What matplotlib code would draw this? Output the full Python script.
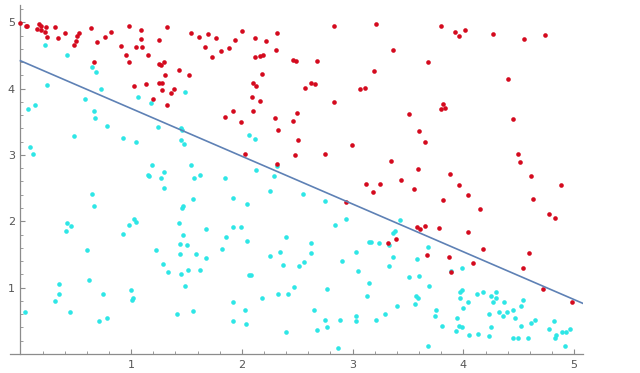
import numpy as np
import matplotlib
matplotlib.use("Agg")
import matplotlib.pyplot as plt
from matplotlib.ticker import MultipleLocator

# class 1 (red) points
red_x = [0.00, 0.05, 0.06, 0.17, 0.19, 0.15, 0.19, 0.23, 0.22, 0.24, 0.31, 0.34, 0.40, 0.53, 0.51,
         0.50, 0.48, 0.64, 0.69, 0.76, 0.82, 0.66, 0.91, 0.95, 0.98, 0.98, 1.04, 1.09, 1.09, 1.10,
         1.15, 1.03, 1.13, 1.25, 1.32, 1.25, 1.27, 1.30, 1.31, 1.25, 1.28, 1.28, 1.20, 1.39, 1.36,
         1.32, 1.43, 1.52, 1.54, 1.61, 1.69, 1.67,
         1.73, 1.77, 1.81, 1.88, 1.94, 2.00, 2.12, 2.12, 2.16, 2.19, 2.22, 2.32, 2.31, 2.18, 2.10,
         2.13, 2.09, 2.16, 1.92, 1.85, 1.99, 2.10, 2.30, 2.33, 2.46, 2.50, 2.51, 2.48, 2.32, 2.03,
         2.46, 2.49, 2.68, 2.57, 2.62, 2.66, 2.83, 2.83, 2.75, 2.99, 3.07, 3.11, 3.19, 3.21, 3.36,
         3.35, 3.12, 3.25,
         3.18, 2.94, 3.32, 3.39,
         3.80, 3.92, 3.96, 4.01, 4.27, 4.55, 4.74, 3.68, 4.40, 3.82, 3.80, 3.83, 3.51, 3.60, 3.65,
         4.45, 4.49, 4.51, 3.59, 3.44, 3.88, 3.96, 4.61, 4.88,
         3.55, 3.82, 4.04, 4.15, 4.63, 4.77, 4.83, 3.58, 3.61, 3.65, 3.78, 4.04, 3.67, 3.87, 4.18,
         4.09, 3.89, 4.59, 4.54, 4.72, 4.98]
red_y = [4.99, 4.95, 4.94, 4.97, 4.95, 4.90, 4.88, 4.93, 4.86, 4.78, 4.93, 4.76, 4.84, 4.84, 4.79,
         4.72, 4.66, 4.91, 4.70, 4.78, 4.85, 4.40, 4.64, 4.50, 4.95, 4.40, 4.62, 4.88, 4.75, 4.62,
         4.50, 4.04, 4.07, 4.74, 4.93, 4.37, 4.35, 4.40, 4.20, 4.08, 4.08, 3.98, 3.85, 3.99, 3.93,
         3.75, 4.28, 4.20, 4.84, 4.78, 4.82, 4.62,
         4.47, 4.76, 4.57, 4.61, 4.73, 4.87, 4.76, 4.47, 4.49, 4.50, 4.72, 4.84, 4.58, 4.22, 4.09,
         4.04, 3.87, 3.81, 3.66, 3.57, 3.49, 3.66, 3.55, 3.37, 3.51, 3.63, 3.22, 3.00, 2.86, 3.01,
         4.43, 4.41, 4.41, 4.01, 4.08, 4.07, 3.80, 4.94, 3.01, 3.15, 3.99, 4.01, 4.26, 4.97, 4.58,
         2.91, 2.56, 2.56,
         2.44, 2.29, 1.68, 1.73,
         4.94, 4.85, 4.79, 4.88, 4.82, 4.75, 4.81, 4.40, 4.14, 3.77, 3.69, 3.71, 3.61, 3.36, 3.19,
         3.54, 3.01, 2.89, 2.79, 2.62, 2.72, 2.54, 2.68, 2.54,
         2.48, 2.32, 2.39, 2.18, 2.33, 2.11, 2.05, 1.91, 1.88, 1.93, 1.90, 1.84, 1.49, 1.46, 1.58,
         1.37, 1.23, 1.52, 1.29, 0.98, 0.78]

# class 2 (cyan) points
cyan_x = [0.22, 0.42, 0.24, 0.07, 0.13, 0.09, 0.11, 0.48, 0.65, 0.68, 0.73, 0.58, 0.66, 0.67, 0.78,
          0.93, 1.04, 1.06, 1.18, 1.24, 1.45, 1.46, 1.45, 1.48, 1.49, 1.19, 1.15, 1.16, 1.30, 1.27,
          1.30, 1.54, 1.57, 1.62,
          0.65, 0.66, 0.42, 0.46, 0.41, 0.60, 0.62, 0.35, 0.35, 0.31, 0.45, 0.04, 0.75, 0.71, 0.78,
          0.93, 0.98, 1.03, 1.04, 1.00, 1.02, 1.01, 1.22, 1.29, 1.33, 1.56, 1.47, 1.46, 1.43, 1.47,
          1.44, 1.50, 1.44, 1.59, 1.68, 1.68, 1.45, 1.51, 1.62, 1.49, 1.41, 1.56,
          2.06, 2.12, 2.32, 2.13, 2.29, 1.85,
          1.92, 2.05, 2.25, 2.55, 2.75, 2.94, 2.84, 1.92, 1.99, 1.86, 2.05, 2.40, 1.82, 2.25, 2.34,
          2.37, 2.62, 2.62, 2.56, 2.52, 2.06, 2.08, 2.90, 3.03, 3.05, 3.15, 3.17, 3.24, 3.33, 3.36,
          3.38, 3.36, 3.33, 3.15, 3.13, 3.29, 3.21, 3.03, 3.03, 2.89, 2.75, 2.77, 2.68, 2.65, 2.77,
          2.47, 2.42, 2.33, 2.18, 1.92, 2.03, 1.92, 2.04, 2.40, 2.87,
          3.43, 3.40, 3.68, 3.58, 3.60, 3.51, 3.69, 3.57, 3.59, 3.56, 3.75, 3.74, 3.81, 3.68, 3.99,
          3.89, 3.97, 3.99, 3.97, 4.04, 4.00, 3.94, 3.93, 3.96, 3.99, 4.05, 4.12, 4.18, 4.13, 4.23,
          4.25, 4.23, 4.25, 4.27, 4.29, 4.29, 4.32, 4.36, 4.37, 4.39, 4.45, 4.47, 4.52, 4.54, 4.52,
          4.61, 4.65, 4.45, 4.49, 4.58, 4.77, 4.82, 4.84, 4.83, 4.89, 4.93, 4.96, 4.92]
cyan_y = [4.66, 4.50, 4.05, 3.69, 3.76, 3.12, 3.02, 3.28, 4.32, 4.25, 3.99, 3.85, 3.66, 3.55, 3.44,
          3.25, 3.19, 3.87, 3.79, 3.42, 3.41, 3.37, 3.23, 3.16, 3.95, 2.85, 2.70, 2.69, 2.74, 2.65,
          2.50, 2.85, 2.65, 2.70,
          2.41, 2.23, 1.98, 1.93, 1.86, 1.56, 1.12, 1.06, 0.90, 0.80, 0.63, 0.64, 0.90, 0.49, 0.55,
          1.81, 1.95, 2.03, 1.99, 0.97, 0.85, 0.81, 1.57, 1.36, 1.23, 2.33, 2.23, 2.20, 1.98, 1.80,
          1.66, 1.65, 1.51, 1.50, 1.45, 1.88, 1.21, 1.27, 1.27, 1.02, 0.61, 0.65,
          3.30, 3.24, 2.84, 2.78, 2.69, 2.66,
          2.35, 2.26, 2.45, 2.41, 2.30, 2.03, 1.94, 1.92, 1.92, 1.77, 1.71, 1.76, 1.59, 1.47, 1.53,
          1.34, 1.67, 1.52, 1.38, 1.32, 1.19, 1.19, 1.40, 1.53, 1.25, 1.69, 1.69, 1.68, 1.65, 1.82,
          1.85, 1.46, 1.32, 1.07, 0.87, 0.61, 0.51, 0.57, 0.49, 0.51, 0.51, 0.40, 0.36, 0.66, 0.98,
          1.01, 0.90, 0.90, 0.85, 0.78, 0.67, 0.49, 0.45, 0.33, 0.09,
          2.02, 0.73, 1.61, 1.43, 1.17, 1.16, 1.02, 0.88, 0.84, 0.75, 0.67, 0.57, 0.42, 0.12, 1.29,
          1.25, 0.93, 0.96, 0.85, 0.78, 0.69, 0.54, 0.35, 0.42, 0.40, 0.28, 0.90, 0.93, 0.30, 0.61,
          0.40, 0.27, 0.87, 0.79, 0.93, 0.84, 0.63, 0.58, 0.78, 0.64, 0.67, 0.55, 0.73, 0.81, 0.42,
          0.46, 0.51, 0.24, 0.24, 0.24, 0.37, 0.49, 0.28, 0.24, 0.33, 0.33, 0.37, 0.12]

# separating line y = intercept + slope * x
intercept = 4.42
slope = -0.72
line_x = np.array([0.0, 5.08])

fig = plt.figure(figsize=(6.4, 3.73), dpi=100)
ax = fig.add_axes([10 / 640, 19 / 373, 573 / 640, 349 / 373])

ax.scatter(cyan_x, cyan_y, s=11, color="#2ee6e6", linewidths=0, zorder=2)
ax.scatter(red_x, red_y, s=11, color="#d40a1e", linewidths=0, zorder=3)
ax.plot(line_x, intercept + slope * line_x, color="#5e81b5", lw=1.2, zorder=4)

ax.set_xlim(-0.094, 5.08)
ax.set_ylim(0, 5.26)

for s in ["top", "right"]:
    ax.spines[s].set_visible(False)
ax.spines["left"].set_position(("data", 0))
for s in ["left", "bottom"]:
    ax.spines[s].set_color("#8c8c8c")
    ax.spines[s].set_linewidth(0.9)

ax.set_xticks([1, 2, 3, 4, 5])
ax.set_yticks([1, 2, 3, 4, 5])
ax.xaxis.set_minor_locator(MultipleLocator(0.2))
ax.yaxis.set_minor_locator(MultipleLocator(0.2))
ax.tick_params(which="both", direction="in", color="#8c8c8c", labelsize=8, labelcolor="#555555")
ax.tick_params(which="major", length=3.5, width=0.8, pad=4)
ax.tick_params(which="minor", length=2, width=0.6)

fig.savefig("out.png", dpi=100)
